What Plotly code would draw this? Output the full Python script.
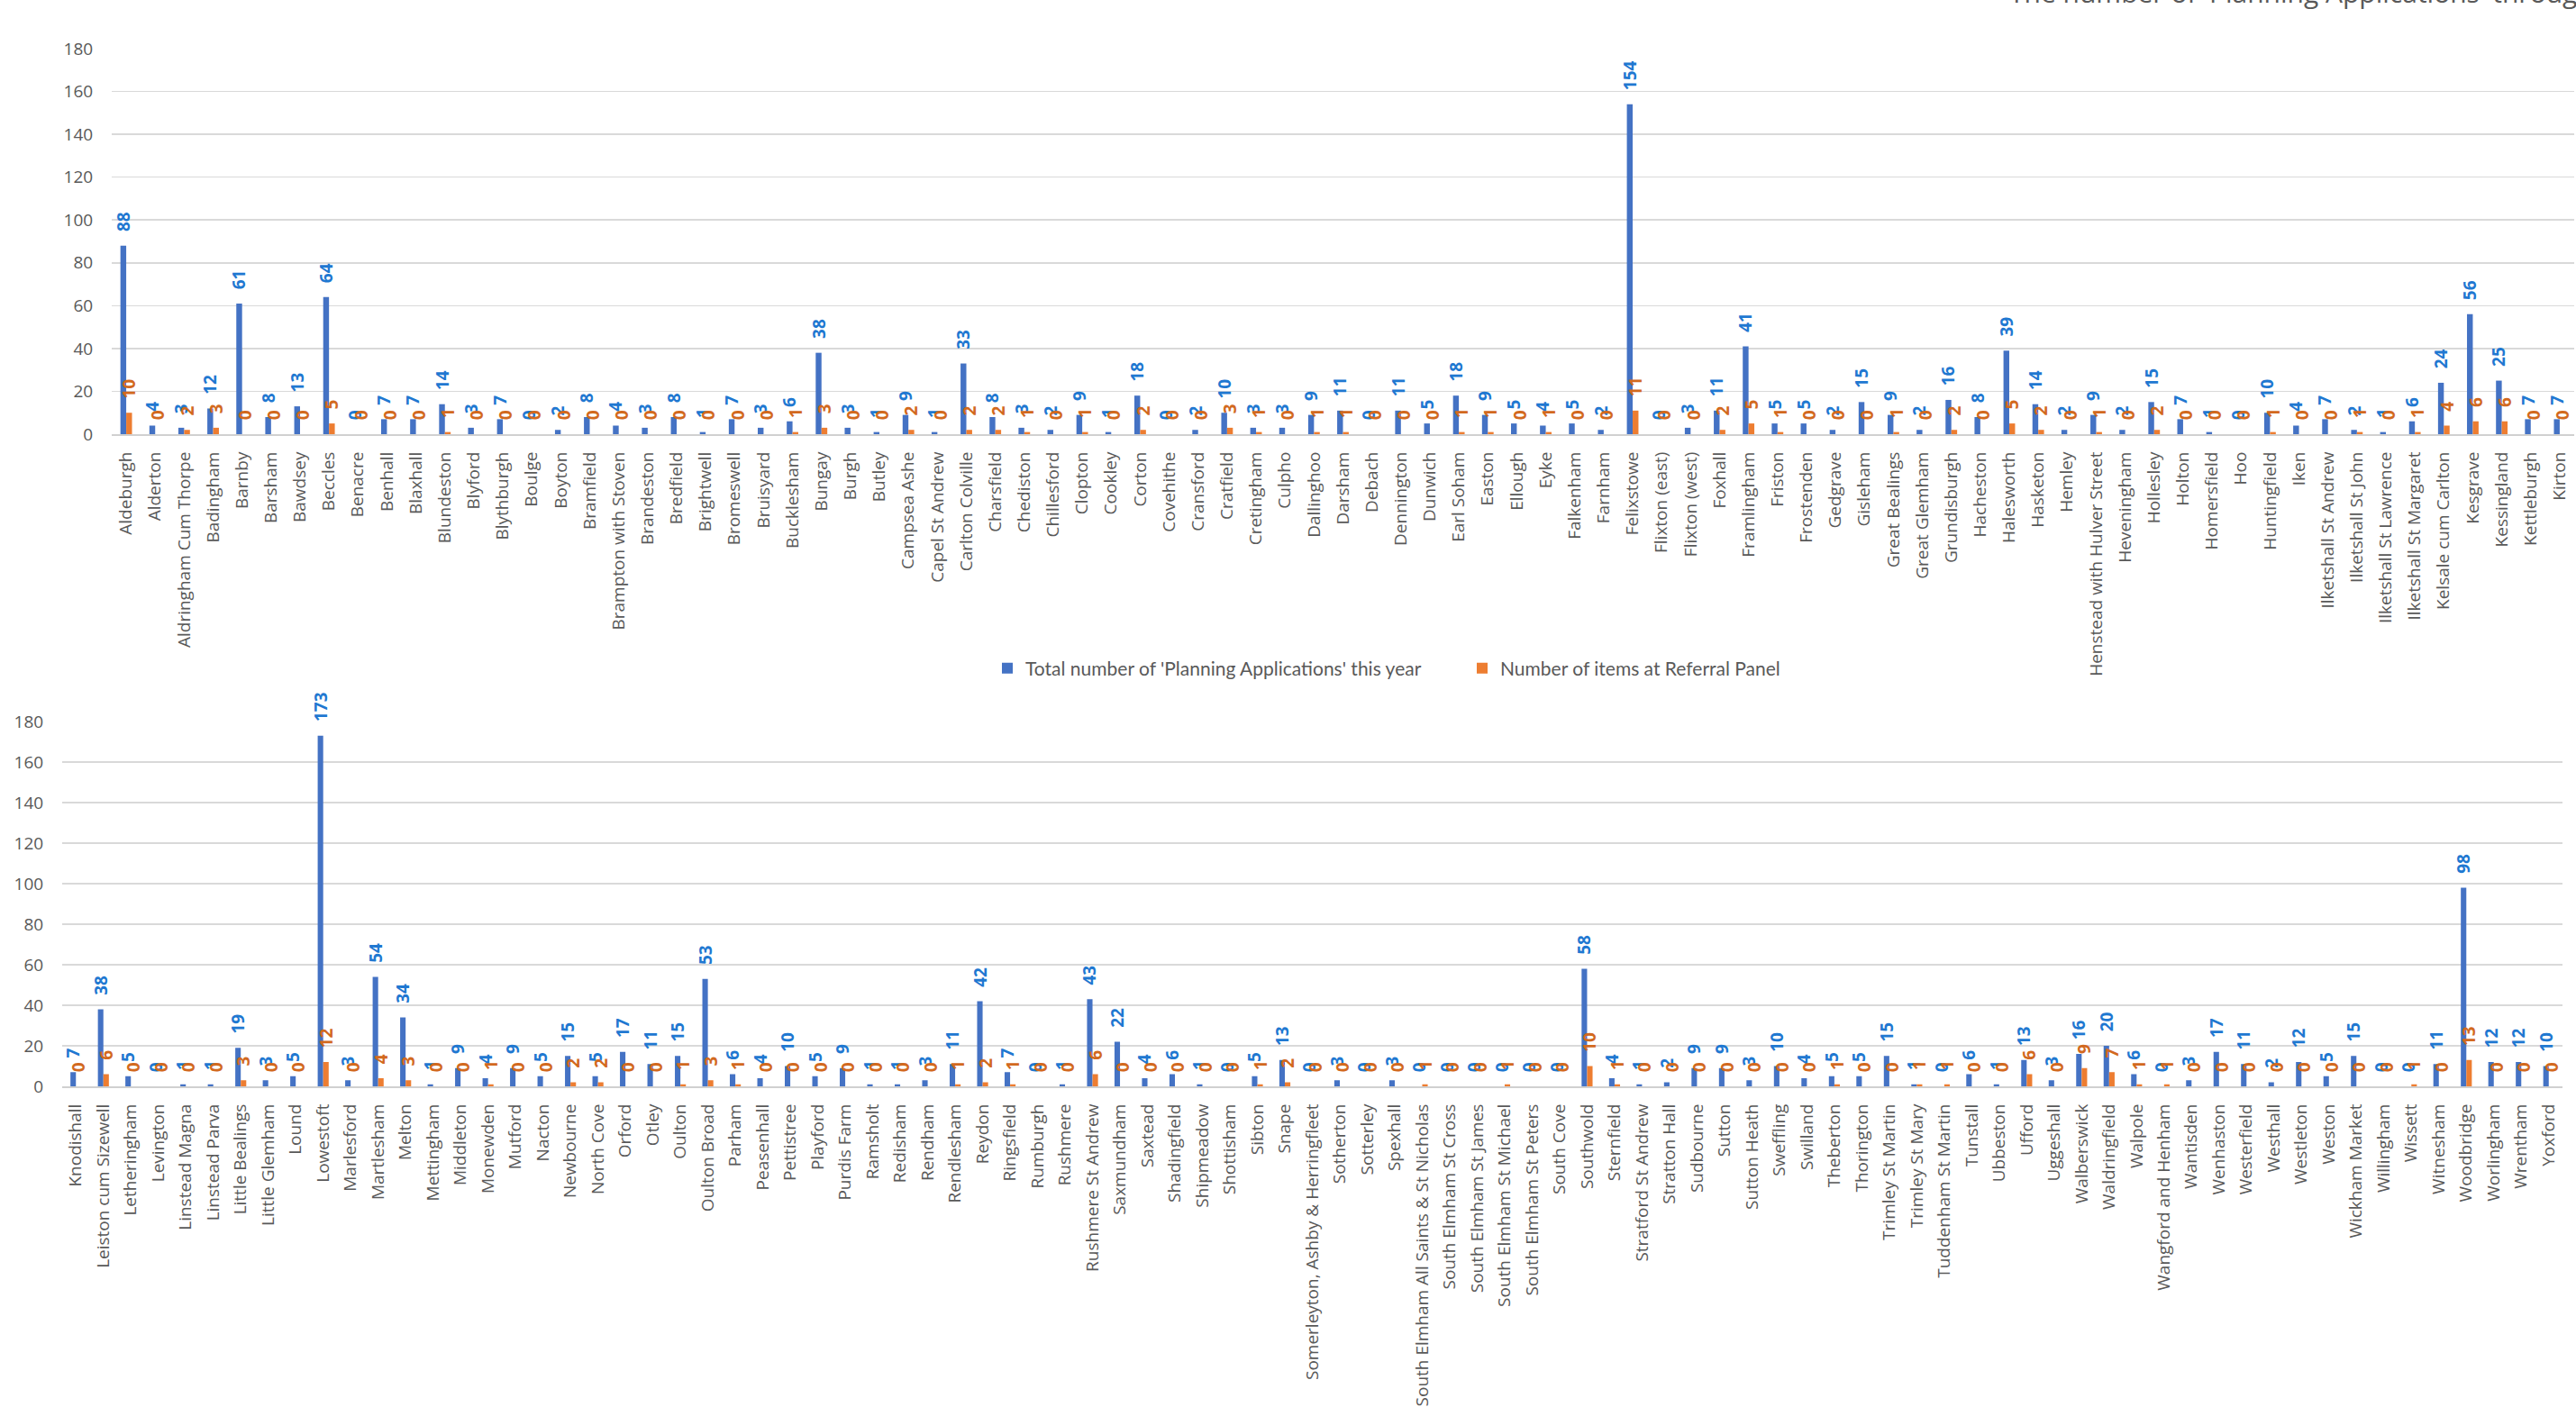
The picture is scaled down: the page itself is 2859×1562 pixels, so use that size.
import plotly.graph_objects as go

W, H = 2859, 1562

top_places = [
    "Aldeburgh", "Alderton", "Aldringham Cum Thorpe", "Badingham", "Barnby", "Barsham", "Bawdsey",
    "Beccles", "Benacre", "Benhall", "Blaxhall", "Blundeston", "Blyford", "Blythburgh", "Boulge",
    "Boyton", "Bramfield", "Brampton with Stoven", "Brandeston", "Bredfield", "Brightwell",
    "Bromeswell", "Bruisyard", "Bucklesham", "Bungay", "Burgh", "Butley", "Campsea Ashe",
    "Capel St Andrew", "Carlton Colville", "Charsfield", "Chediston", "Chillesford", "Clopton",
    "Cookley", "Corton", "Covehithe", "Cransford", "Cratfield", "Cretingham", "Culpho",
    "Dallinghoo", "Darsham", "Debach", "Dennington", "Dunwich", "Earl Soham", "Easton", "Ellough",
    "Eyke", "Falkenham", "Farnham", "Felixstowe", "Flixton (east)", "Flixton (west)", "Foxhall",
    "Framlingham", "Friston", "Frostenden", "Gedgrave", "Gisleham", "Great Bealings",
    "Great Glemham", "Grundisburgh", "Hacheston", "Halesworth", "Hasketon", "Hemley",
    "Henstead with Hulver Street", "Heveningham", "Hollesley", "Holton", "Homersfield", "Hoo",
    "Huntingfield", "Iken", "Ilketshall St Andrew", "Ilketshall St John", "Ilketshall St Lawrence",
    "Ilketshall St Margaret", "Kelsale cum Carlton", "Kesgrave", "Kessingland", "Kettleburgh",
    "Kirton",
]
top_total = [
    88, 4, 3, 12, 61, 8, 13, 64, 0, 7, 7, 14, 3, 7, 0, 2, 8, 4, 3, 8, 1,
    7, 3, 6, 38, 3, 1, 9, 1, 33, 8, 3, 2, 9, 1, 18, 0, 2, 10, 3, 3,
    9, 11, 0, 11, 5, 18, 9, 5, 4, 5, 2, 154, 0, 3, 11, 41, 5, 5, 2, 15, 9,
    2, 16, 8, 39, 14, 2, 9, 2, 15, 7, 1, 0, 10, 4, 7, 2, 1, 6, 24, 56, 25, 7, 7,
]
top_referral = [
    10, 0, 2, 3, 0, 0, 0, 5, 0, 0, 0, 1, 0, 0, 0, 0, 0, 0, 0, 0, 0,
    0, 0, 1, 3, 0, 0, 2, 0, 2, 2, 1, 0, 1, 0, 2, 0, 0, 3, 1, 0,
    1, 1, 0, 0, 0, 1, 1, 0, 1, 0, 0, 11, 0, 0, 2, 5, 1, 0, 0, 0, 1,
    0, 2, 0, 5, 2, 0, 1, 0, 2, 0, 0, 0, 1, 0, 0, 1, 0, 1, 4, 6, 6, 0, 0,
]

bottom_places = [
    "Knodishall", "Leiston cum Sizewell", "Letheringham", "Levington", "Linstead Magna",
    "Linstead Parva", "Little Bealings", "Little Glemham", "Lound", "Lowestoft", "Marlesford",
    "Martlesham", "Melton", "Mettingham", "Middleton", "Monewden", "Mutford", "Nacton",
    "Newbourne", "North Cove", "Orford", "Otley", "Oulton", "Oulton Broad", "Parham",
    "Peasenhall", "Pettistree", "Playford", "Purdis Farm", "Ramsholt", "Redisham", "Rendham",
    "Rendlesham", "Reydon", "Ringsfield", "Rumburgh", "Rushmere", "Rushmere St Andrew",
    "Saxmundham", "Saxtead", "Shadingfield", "Shipmeadow", "Shottisham", "Sibton", "Snape",
    "Somerleyton, Ashby & Herringfleet", "Sotherton", "Sotterley", "Spexhall",
    "South Elmham All Saints & St Nicholas", "South Elmham St Cross", "South Elmham St James",
    "South Elmham St Michael", "South Elmham St Peters", "South Cove", "Southwold", "Sternfield",
    "Stratford St Andrew", "Stratton Hall", "Sudbourne", "Sutton", "Sutton Heath", "Sweffling",
    "Swilland", "Theberton", "Thorington", "Trimley St Martin", "Trimley St Mary",
    "Tuddenham St Martin", "Tunstall", "Ubbeston", "Ufford", "Uggeshall", "Walberswick",
    "Waldringfield", "Walpole", "Wangford and Henham", "Wantisden", "Wenhaston", "Westerfield",
    "Westhall", "Westleton", "Weston", "Wickham Market", "Willingham", "Wissett", "Witnesham",
    "Woodbridge", "Worlingham", "Wrentham", "Yoxford",
]
bottom_total = [
    7, 38, 5, 0, 1, 1, 19, 3, 5, 173, 3, 54, 34, 1, 9, 4, 9, 5, 15, 5, 17, 11,
    15, 53, 6, 4, 10, 5, 9, 1, 1, 3, 11, 42, 7, 0, 1, 43, 22, 4, 6, 1, 0, 5, 13,
    0, 3, 0, 3, 0, 0, 0, 0, 0, 0, 58, 4, 1, 2, 9, 9, 3, 10, 4, 5, 5, 15, 1,
    0, 6, 1, 13, 3, 16, 20, 6, 0, 3, 17, 11, 2, 12, 5, 15, 0, 0, 11, 98, 12, 12, 10,
]
bottom_referral = [
    0, 6, 0, 0, 0, 0, 3, 0, 0, 12, 0, 4, 3, 0, 0, 1, 0, 0, 2, 2, 0, 0,
    1, 3, 1, 0, 0, 0, 0, 0, 0, 0, 1, 2, 1, 0, 0, 6, 0, 0, 0, 0, 0, 1, 2,
    0, 0, 0, 0, 1, 0, 0, 1, 0, 0, 10, 1, 0, 0, 0, 0, 0, 0, 0, 1, 0, 0, 1,
    1, 0, 0, 6, 0, 9, 7, 1, 1, 0, 0, 0, 0, 0, 0, 0, 0, 1, 0, 13, 0, 0, 0,
]

series_names = ["Total number of 'Planning Applications' this year", "Number of items at Referral Panel"]
bar_colors = ["#4472C4", "#ED7D31"]
label_colors = ["#1F78D1", "#D2691E"]

FONT = "Open Sans"
GRAY = "#595959"
PAD = "\u2002\u2009"  # lifts the rotated value labels a little above the bar ends

fig = go.Figure()
legend_ids = ["legend", "legend2"]

def add_pair(places, total, referral, xa, ya, show):
    for i, vals in enumerate([total, referral]):
        fig.add_trace(go.Bar(
            x=places, y=vals, name=series_names[i],
            marker=dict(color=bar_colors[i], line=dict(width=0)),
            text=[PAD + str(v) for v in vals], textposition="outside", textangle=-90,
            constraintext="none", cliponaxis=False,
            textfont=dict(family=FONT, size=19, color=label_colors[i], weight="bold"),
            xaxis=xa, yaxis=ya, showlegend=show, legend=legend_ids[i],
            hoverinfo="x+y",
        ))

add_pair(top_places, top_total, top_referral, "x", "y", True)
add_pair(bottom_places, bottom_total, bottom_referral, "x2", "y2", False)

def px_x(p):
    return p / W

def px_y(p):
    return 1 - p / H

xcommon = dict(
    type="category", tickangle=-90, showgrid=False, showline=True, linecolor="#D0D0D0",
    linewidth=2, ticks="outside", ticklen=10, tickcolor="rgba(0,0,0,0)",
    tickfont=dict(family=FONT, size=19, color=GRAY), zeroline=False, fixedrange=True,
    automargin=False,
)
ycommon = dict(
    range=[0, 180], dtick=20, showgrid=True, gridcolor="#D9D9D9", gridwidth=1.5,
    zeroline=False, showline=False, ticks="outside", ticklen=16, tickcolor="rgba(0,0,0,0)",
    tickfont=dict(family=FONT, size=19, color=GRAY), fixedrange=True, automargin=False,
)

legend_common = dict(
    orientation="h", xanchor="left", yanchor="middle",
    font=dict(family="Lato", size=21, color=GRAY), itemwidth=30,
    bgcolor="rgba(0,0,0,0)", borderwidth=0,
)

fig.update_layout(
    template="none",
    width=W, height=H,
    margin=dict(l=0, r=0, t=0, b=0, pad=0, autoexpand=False),
    paper_bgcolor="white", plot_bgcolor="white",
    barmode="group", bargap=0.6, bargroupgap=0.0,
    xaxis=dict(domain=[px_x(124), px_x(2857)], anchor="y", **xcommon),
    yaxis=dict(domain=[px_y(482), px_y(54)], anchor="x", **ycommon),
    xaxis2=dict(domain=[px_x(69), px_x(2844)], anchor="y2", **xcommon),
    yaxis2=dict(domain=[px_y(1206), px_y(801)], anchor="x2", **ycommon),
    legend=dict(x=px_x(1098), y=px_y(742), **legend_common),
    legend2=dict(x=px_x(1625), y=px_y(742), **legend_common),
    annotations=[dict(
        text="The number of 'Planning Applications' through", xref="paper", yref="paper",
        x=px_x(2228), xanchor="left", y=px_y(14), yanchor="bottom", showarrow=False,
        font=dict(family=FONT, size=30, color=GRAY),
    )],
)

fig.write_html(
    "out.html",
    config={"displayModeBar": False, "staticPlot": True},
    post_script="document.body.style.margin='0px';document.body.style.overflow='hidden';",
)
